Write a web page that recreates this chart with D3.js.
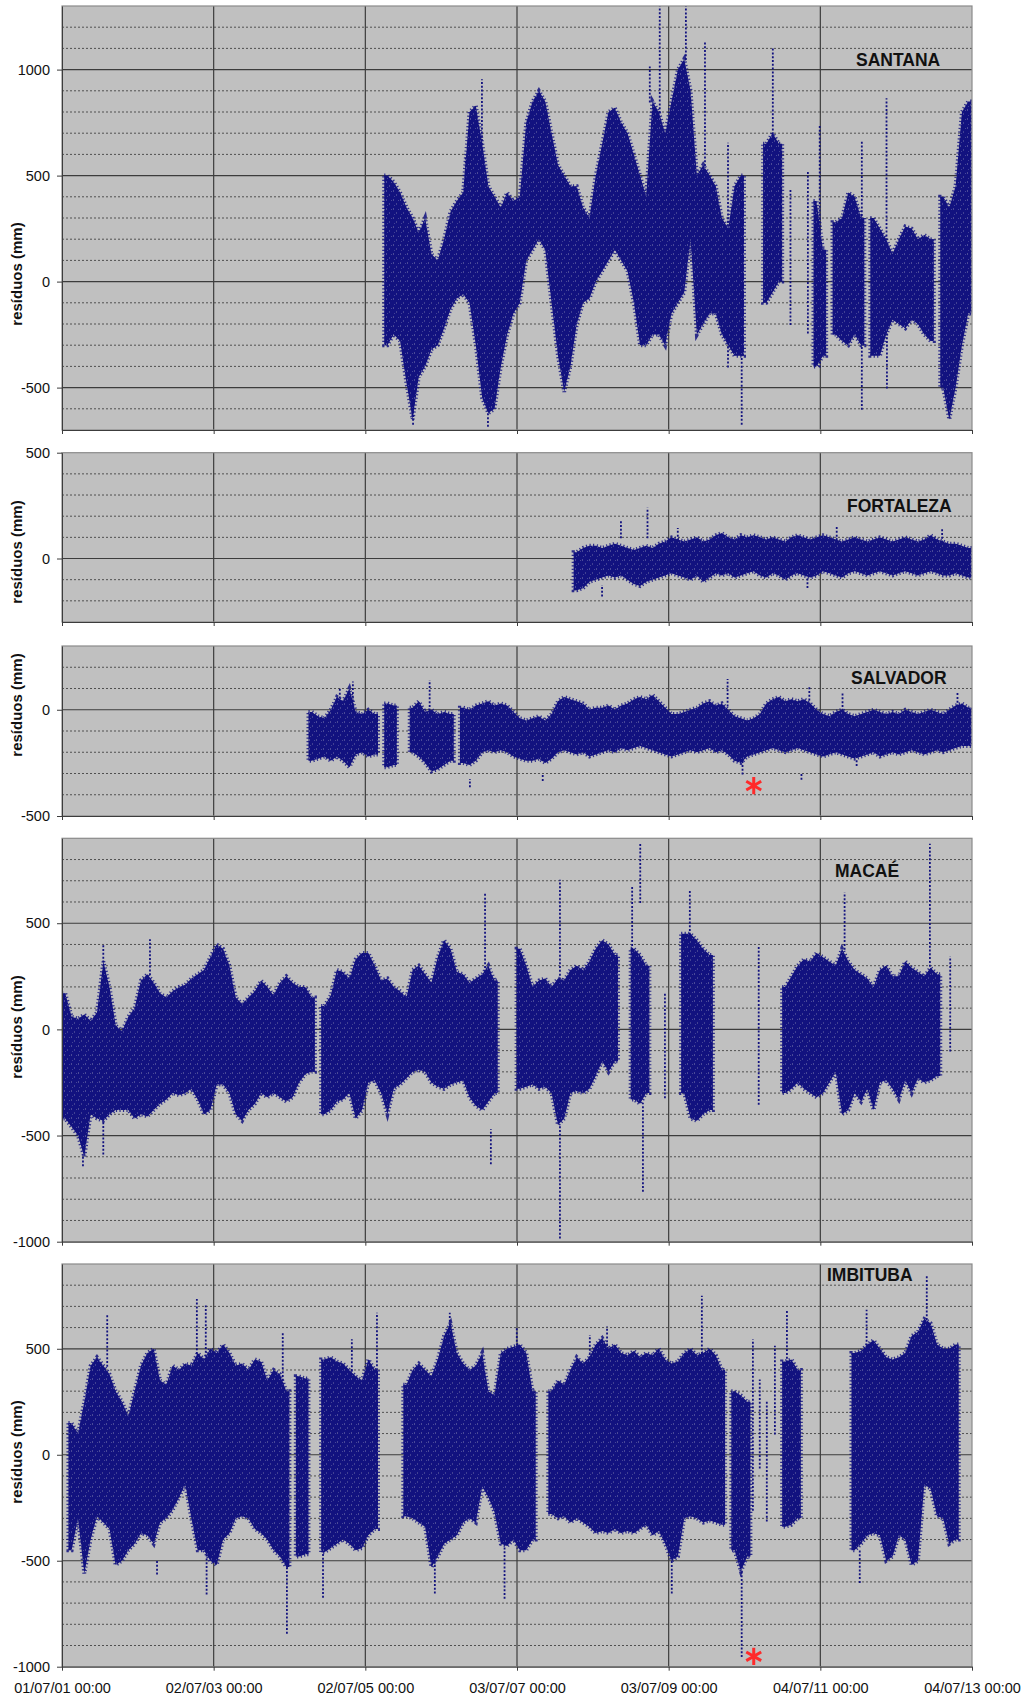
<!DOCTYPE html>
<html><head><meta charset="utf-8">
<script src="https://cdn.jsdelivr.net/npm/d3@7"></script>
<style>body{margin:0;background:#fff}svg{display:block}</style>
</head><body>
<svg id="chart" width="1029" height="1699"></svg>
<script>
// ---------- DATA ----------
const xTickLabels = ["01/07/01 00:00","02/07/03 00:00","02/07/05 00:00","03/07/07 00:00","03/07/09 00:00","04/07/11 00:00","04/07/13 00:00"];
const stationNames = ["SANTANA","FORTALEZA","SALVADOR","MACAÉ","IMBITUBA"];
const yAxisTitle = "resíduos (mm)";
const yDomains = [[-700,1300],[-300,500],[-500,300],[-1000,900],[-1000,900]];
const yTickValues = [[-500,0,500,1000],[0,500],[-500,0],[-1000,-500,0,500],[-1000,-500,0,500]];

// monthly envelopes of the dense point cloud: [month, low, high] (mm)
const santanaBins = [["2005-10",-300,500],["2005-11",-250,470],["2005-12",-280,420],["2006-01",-480,350],["2006-02",-650,300],["2006-03",-450,230],["2006-04",-400,300],["2006-05",-320,130],["2006-06",-300,100],["2006-07",-220,200],["2006-08",-130,330],["2006-09",-80,380],["2006-10",-60,420],["2006-11",-100,800],["2006-12",-300,830],["2007-01",-550,650],["2007-02",-620,450],["2007-03",-600,400],["2007-04",-400,350],["2007-05",-250,420],["2007-06",-150,380],["2007-07",-100,400],["2007-08",100,750],["2007-09",150,850],["2007-10",200,900],["2007-11",150,850],["2007-12",-100,700],["2008-01",-350,550],["2008-02",-520,500],["2008-03",-400,450],["2008-04",-200,450],["2008-05",-100,350],["2008-06",-80,300],["2008-07",0,500],["2008-08",50,650],["2008-09",100,800],["2008-10",150,820],["2008-11",100,750],["2008-12",50,700],["2009-01",-100,600],["2009-02",-300,500],["2009-03",-300,400],["2009-04",-250,850],["2009-05",-250,800],["2009-06",-300,700],["2009-07",-150,850],["2009-08",-100,1000],["2009-09",-50,1050],["2009-10",200,900],["2009-11",-250,500],["2009-12",-200,550],["2010-01",-150,500],["2010-02",-150,450],["2010-03",-250,300],["2010-04",-300,250],["2010-05",-350,450],["2010-06",-350,500],["2010-10",-100,650],["2010-11",-50,700],["2010-12",0,650],["2011-06",-400,380],["2011-07",-350,150],["2011-09",-250,280],["2011-10",-280,300],["2011-11",-300,420],["2011-12",-250,400],["2012-01",-300,300],["2012-03",-350,300],["2012-04",-350,250],["2012-05",-250,200],["2012-06",-180,130],["2012-07",-200,200],["2012-08",-220,260],["2012-09",-180,250],["2012-10",-200,200],["2012-11",-250,220],["2012-12",-280,200],["2013-02",-500,400],["2013-03",-650,350],["2013-04",-500,450],["2013-05",-300,800],["2013-06",-150,850]];
const fortalezaBins = [["2008-04",-150,30],["2008-05",-140,50],["2008-06",-110,60],["2008-07",-100,60],["2008-08",-90,50],["2008-09",-80,60],["2008-10",-90,70],["2008-11",-80,60],["2008-12",-100,50],["2009-01",-120,40],["2009-02",-130,50],["2009-03",-110,60],["2009-04",-100,50],["2009-05",-90,70],["2009-06",-80,80],["2009-07",-70,100],["2009-08",-80,90],["2009-09",-90,80],["2009-10",-100,90],["2009-11",-80,100],["2009-12",-110,80],["2010-01",-90,90],["2010-02",-70,110],["2010-03",-80,120],["2010-04",-70,100],["2010-05",-90,90],["2010-06",-80,110],["2010-07",-70,100],["2010-08",-60,110],["2010-09",-80,100],["2010-10",-90,90],["2010-11",-70,100],["2010-12",-80,90],["2011-01",-100,80],["2011-02",-80,100],["2011-03",-70,110],["2011-04",-80,100],["2011-05",-90,90],["2011-06",-80,100],["2011-07",-60,110],["2011-08",-70,100],["2011-09",-80,90],["2011-10",-90,80],["2011-11",-70,90],["2011-12",-60,100],["2012-01",-70,90],["2012-02",-80,80],["2012-03",-70,90],["2012-04",-60,100],["2012-05",-70,90],["2012-06",-80,80],["2012-07",-70,90],["2012-08",-60,100],["2012-09",-70,90],["2012-10",-80,80],["2012-11",-70,90],["2012-12",-60,110],["2013-01",-70,90],["2013-02",-80,80],["2013-03",-80,70],["2013-04",-70,70],["2013-05",-80,60],["2013-06",-90,50]];
const salvadorBins = [["2004-10",-240,-10],["2004-11",-230,-30],["2004-12",-220,-40],["2005-01",-240,0],["2005-02",-220,60],["2005-03",-240,40],["2005-04",-270,100],["2005-05",-210,-10],["2005-06",-200,-20],["2005-07",-220,0],["2005-08",-210,-20],["2005-10",-270,30],["2005-11",-260,20],["2006-02",-200,10],["2006-03",-220,40],["2006-04",-250,-10],["2006-05",-290,0],["2006-06",-280,-20],["2006-07",-260,-10],["2006-08",-240,-20],["2006-10",-250,10],["2006-11",-260,0],["2006-12",-240,20],["2007-01",-200,30],["2007-02",-190,40],["2007-03",-200,20],["2007-04",-190,30],["2007-05",-200,20],["2007-06",-220,-10],["2007-07",-230,-40],["2007-08",-240,-50],["2007-09",-240,-40],["2007-10",-230,-30],["2007-11",-250,-50],["2007-12",-230,-20],["2008-01",-200,40],["2008-02",-190,60],["2008-03",-200,50],["2008-04",-210,40],["2008-05",-200,30],["2008-06",-220,0],["2008-07",-210,10],["2008-08",-200,10],["2008-09",-190,20],["2008-10",-200,0],["2008-11",-180,20],["2008-12",-190,30],["2009-01",-180,50],["2009-02",-170,60],["2009-03",-180,50],["2009-04",-190,70],["2009-05",-200,40],["2009-06",-210,10],["2009-07",-220,-20],["2009-08",-210,-20],["2009-09",-200,-10],["2009-10",-190,0],["2009-11",-200,10],["2009-12",-190,30],["2010-01",-180,40],["2010-02",-200,20],["2010-03",-190,30],["2010-04",-210,0],["2010-05",-240,-30],["2010-06",-250,-40],["2010-07",-220,-50],["2010-08",-210,-40],["2010-09",-200,-20],["2010-10",-190,30],["2010-11",-180,50],["2010-12",-190,60],["2011-01",-200,40],["2011-02",-190,50],["2011-03",-180,40],["2011-04",-190,50],["2011-05",-200,30],["2011-06",-210,0],["2011-07",-220,-20],["2011-08",-210,-30],["2011-09",-200,-10],["2011-10",-210,0],["2011-11",-220,-20],["2011-12",-230,-30],["2012-01",-220,-20],["2012-02",-210,-10],["2012-03",-200,0],["2012-04",-220,-10],["2012-05",-210,-20],["2012-06",-200,-10],["2012-07",-210,-20],["2012-08",-200,0],["2012-09",-190,-10],["2012-10",-200,-20],["2012-11",-210,-10],["2012-12",-200,0],["2013-01",-190,-10],["2013-02",-200,-20],["2013-03",-190,0],["2013-04",-180,20],["2013-05",-170,30],["2013-06",-170,10]];
const macaeBins = [["2001-07",-420,170],["2001-08",-460,60],["2001-09",-500,50],["2001-10",-600,70],["2001-11",-400,40],["2001-12",-420,80],["2002-01",-430,320],["2002-02",-400,200],["2002-03",-380,20],["2002-04",-380,-10],["2002-05",-380,60],["2002-06",-420,100],["2002-07",-400,230],["2002-08",-410,260],["2002-09",-380,220],["2002-10",-350,170],["2002-11",-330,150],["2002-12",-300,180],["2003-01",-310,200],["2003-02",-300,210],["2003-03",-280,240],["2003-04",-330,260],["2003-05",-400,280],["2003-06",-380,340],["2003-07",-260,400],["2003-08",-260,380],["2003-09",-300,300],["2003-10",-400,150],["2003-11",-430,120],["2003-12",-380,150],["2004-01",-350,180],["2004-02",-300,230],["2004-03",-320,200],["2004-04",-300,160],["2004-05",-320,220],["2004-06",-340,250],["2004-07",-320,220],["2004-08",-250,200],["2004-09",-210,200],["2004-10",-200,150],["2004-12",-400,110],["2005-01",-380,160],["2005-02",-340,280],["2005-03",-330,270],["2005-04",-300,240],["2005-05",-420,330],["2005-06",-380,360],["2005-07",-250,360],["2005-08",-240,300],["2005-09",-300,230],["2005-10",-400,240],["2005-11",-280,200],["2005-12",-260,180],["2006-01",-230,150],["2006-02",-200,280],["2006-03",-190,300],["2006-04",-200,260],["2006-05",-250,220],["2006-06",-270,340],["2006-07",-280,420],["2006-08",-260,380],["2006-09",-250,270],["2006-10",-240,260],["2006-11",-320,220],["2006-12",-360,240],["2007-01",-380,260],["2007-02",-340,300],["2007-03",-300,230],["2007-07",-280,380],["2007-08",-270,300],["2007-09",-260,200],["2007-10",-280,230],["2007-11",-270,240],["2007-12",-300,200],["2008-01",-450,240],["2008-02",-420,230],["2008-03",-300,280],["2008-04",-290,300],["2008-05",-300,280],["2008-06",-280,320],["2008-07",-220,380],["2008-08",-150,420],["2008-09",-200,400],["2008-10",-150,350],["2009-01",-330,380],["2009-02",-350,350],["2009-03",-300,300],["2009-09",-300,450],["2009-10",-420,450],["2009-11",-430,420],["2009-12",-400,380],["2010-01",-380,350],["2011-01",-300,200],["2011-02",-280,250],["2011-03",-250,300],["2011-04",-280,330],["2011-05",-300,320],["2011-06",-320,360],["2011-07",-300,340],["2011-08",-250,320],["2011-09",-200,300],["2011-10",-400,380],["2011-11",-380,320],["2011-12",-300,280],["2012-01",-340,260],["2012-02",-280,240],["2012-03",-380,200],["2012-04",-250,280],["2012-05",-240,300],["2012-06",-280,250],["2012-07",-330,250],["2012-08",-240,320],["2012-09",-300,290],["2012-10",-230,270],["2012-11",-250,250],["2012-12",-240,290],["2013-01",-220,260]];
const imbitubaBins = [["2001-08",-450,150],["2001-09",-300,100],["2001-10",-560,250],["2001-11",-400,420],["2001-12",-290,460],["2002-01",-320,420],["2002-02",-350,380],["2002-03",-520,300],["2002-04",-500,250],["2002-05",-450,180],["2002-06",-420,300],["2002-07",-370,420],["2002-08",-380,480],["2002-09",-420,500],["2002-10",-320,350],["2002-11",-300,330],["2002-12",-260,420],["2003-01",-200,400],["2003-02",-140,430],["2003-03",-300,420],["2003-04",-450,480],["2003-05",-450,450],["2003-06",-500,500],["2003-07",-520,480],["2003-08",-400,520],["2003-09",-370,480],["2003-10",-300,420],["2003-11",-290,430],["2003-12",-300,400],["2004-01",-350,450],["2004-02",-370,440],["2004-03",-400,350],["2004-04",-450,400],["2004-05",-480,380],["2004-06",-530,300],["2004-08",-480,370],["2004-09",-470,360],["2004-12",-460,450],["2005-01",-440,460],["2005-02",-420,440],["2005-03",-400,430],["2005-04",-420,400],["2005-05",-450,370],["2005-06",-440,350],["2005-07",-380,450],["2005-08",-350,400],["2006-01",-290,330],["2006-02",-300,400],["2006-03",-320,430],["2006-04",-340,400],["2006-05",-530,370],["2006-06",-480,450],["2006-07",-420,560],["2006-08",-400,620],["2006-09",-380,480],["2006-10",-320,430],["2006-11",-300,400],["2006-12",-320,420],["2007-01",-150,480],["2007-02",-200,300],["2007-03",-270,280],["2007-04",-420,480],["2007-05",-430,500],["2007-06",-400,510],["2007-07",-450,520],["2007-08",-450,480],["2007-09",-400,300],["2007-12",-280,300],["2008-01",-300,350],["2008-02",-290,330],["2008-03",-320,400],["2008-04",-300,460],["2008-05",-320,430],["2008-06",-340,460],["2008-07",-370,520],["2008-08",-360,550],["2008-09",-370,500],["2008-10",-350,520],["2008-11",-370,480],["2008-12",-360,470],["2009-01",-370,490],["2009-02",-350,460],["2009-03",-330,480],["2009-04",-380,470],["2009-05",-360,500],["2009-06",-420,450],["2009-07",-500,430],["2009-08",-480,440],["2009-09",-300,480],["2009-10",-290,500],["2009-11",-300,470],["2009-12",-320,480],["2010-01",-310,500],["2010-02",-320,470],["2010-03",-330,400],["2010-05",-450,300],["2010-06",-550,280],["2010-07",-480,250],["2011-01",-340,440],["2011-02",-330,450],["2011-03",-300,400],["2011-12",-450,480],["2012-01",-420,490],["2012-02",-380,520],["2012-03",-370,540],["2012-04",-380,500],["2012-05",-500,460],["2012-06",-480,450],["2012-07",-380,460],["2012-08",-400,480],["2012-09",-520,560],["2012-10",-500,580],["2012-11",-140,640],["2012-12",-160,620],["2013-01",-290,520],["2013-02",-300,500],["2013-03",-420,500],["2013-04",-400,520]];

// isolated streaks / outliers: [date, low, high] (mm)
const santanaSpikes = [["2006-02-17",-670,-450],["2006-10-29",25,590],["2007-01-15",650,950],["2007-02-13",-680,-550],["2009-04-03",850,1010],["2009-05-21",800,1300],["2009-09-24",1050,1300],["2009-12-25",550,1125],["2010-04-15",-400,650],["2010-06-20",-670,-350],["2010-11-17",700,1095],["2011-02-10",-200,430],["2011-05-05",-240,520],["2011-07-01",-400,730],["2012-01-20",-600,655],["2012-05-18",200,860],["2012-05-20",-500,-250]];
const fortalezaSpikes = [["2008-08-16",-175,-130],["2008-11-15",100,180],["2009-03-23",100,235],["2009-08-16",90,140],["2011-05-03",-135,-90],["2011-09-21",90,150],["2013-02-10",80,135]];
const salvadorSpikes = [["2005-03-01",40,97],["2005-05-03",-10,128],["2006-05-08",0,135],["2006-11-18",-360,-330],["2007-11-04",-330,-310],["2010-04-13",20,140],["2010-06-24",-300,-240],["2011-04-04",-325,-300],["2011-05-12",30,110],["2011-10-19",0,75],["2011-12-26",-260,-240],["2013-04-25",20,75]];
const macaeSpikes = [["2001-10-10",-640,-600],["2002-01-16",-585,-430],["2002-01-16",320,400],["2002-08-29",260,420],["2007-01-30",240,640],["2007-02-27",-630,-475],["2008-01-26",-980,-450],["2008-01-26",240,700],["2009-01-08",380,675],["2009-02-16",600,870],["2009-03-01",-760,-350],["2009-06-15",-320,170],["2009-10-13",450,650],["2010-09-10",-350,390],["2011-10-29",380,640],["2012-12-13",300,870],["2013-03-21",-100,340]];
const imbitubaSpikes = [["2002-02-04",420,660],["2002-10-02",-560,-500],["2003-04-12",480,730],["2003-05-25",450,700],["2003-05-29",-655,-450],["2004-05-30",300,570],["2004-06-19",-840,-530],["2004-12-10",-670,-460],["2005-04-28",400,540],["2005-08-27",350,665],["2006-06-02",-650,-480],["2006-08-13",560,665],["2007-05-04",-675,-430],["2007-07-02",520,600],["2008-06-18",460,560],["2008-09-09",500,600],["2009-07-18",-650,-500],["2009-12-10",480,745],["2010-06-20",-950,-550],["2010-08-13",-260,540],["2010-09-15",-60,350],["2010-10-19",-310,255],["2010-11-27",100,510],["2011-01-24",440,675],["2012-01-10",-600,-450],["2012-02-12",520,680],["2012-11-28",640,845]];

// red asterisk annotations: [station index, date, value]
const markers = [[2,"2010-08-17",-357],[4,"2010-08-17",-951]];

// ---------- DRAWING ----------
const bins = [santanaBins, fortalezaBins, salvadorBins, macaeBins, imbitubaBins];
const spikes = [santanaSpikes, fortalezaSpikes, salvadorSpikes, macaeSpikes, imbitubaSpikes];
const panels = [
  {top:6, bottom:430, titleY:274, labelX:856, labelY:66},
  {top:452.7, bottom:622, titleY:552, labelX:847, labelY:512},
  {top:646, bottom:816, titleY:705, labelX:851, labelY:684},
  {top:838.3, bottom:1241.7, titleY:1027, labelX:835, labelY:877},
  {top:1264, bottom:1666.7, titleY:1452, labelX:827, labelY:1281}
];
const L = 62, R = 972;
const FONT = "'Liberation Sans', Arial, Helvetica, sans-serif";
const dark = "#3c3c3c";
const navy = "#12127f";

const svg = d3.select("#chart").style("font-family", FONT);
const defs = svg.append("defs");
// speckle texture for the dense clouds of points
const pat = defs.append("pattern").attr("id", "cloud").attr("patternUnits", "userSpaceOnUse")
  .attr("width", 7).attr("height", 9);
pat.append("rect").attr("width", 7).attr("height", 9).attr("fill", navy);
pat.append("rect").attr("x", 1).attr("y", 1).attr("width", 1).attr("height", 2).attr("fill", "#7070a8").attr("opacity", 0.6);
pat.append("rect").attr("x", 4).attr("y", 5).attr("width", 1).attr("height", 2).attr("fill", "#7070a8").attr("opacity", 0.5);
pat.append("rect").attr("x", 6).attr("y", 2).attr("width", 1).attr("height", 1).attr("fill", "#8888b8").attr("opacity", 0.45);
pat.append("rect").attr("x", 2).attr("y", 7).attr("width", 1).attr("height", 1).attr("fill", "#8888b8").attr("opacity", 0.4);

const parseTick = d3.utcParse("%d/%m/%y %H:%M");
const parseMonth = d3.utcParse("%Y-%m");
const parseDay = d3.utcParse("%Y-%m-%d");
const tickDates = xTickLabels.map(parseTick);
const x = d3.scaleUtc().domain([tickDates[0], tickDates[tickDates.length - 1]]).range([L, R]);

// split monthly bins into contiguous runs, each becomes one envelope polygon
function runs(list) {
  const out = [];
  let cur = null, prevEnd = null;
  list.forEach(d => {
    const s = parseMonth(d[0]), e = d3.utcMonth.offset(s, 1);
    if (!cur || +s !== +prevEnd) { cur = []; out.push(cur); }
    cur.push({s, e, lo: d[1], hi: d[2]});
    prevEnd = e;
  });
  return out.map(r => {
    const pts = [{t: r[0].s, lo: r[0].lo, hi: r[0].hi}];
    r.forEach(b => pts.push({t: new Date((+b.s + +b.e) / 2), lo: b.lo, hi: b.hi}));
    const lastB = r[r.length - 1];
    pts.push({t: lastB.e, lo: lastB.lo, hi: lastB.hi});
    return pts;
  });
}

panels.forEach((p, i) => {
  const y = d3.scaleLinear().domain(yDomains[i]).range([p.bottom, p.top]);
  const g = svg.append("g");
  const clipId = "clip" + i;
  defs.append("clipPath").attr("id", clipId).append("rect")
    .attr("x", L).attr("y", p.top).attr("width", R - L).attr("height", p.bottom - p.top);

  g.append("rect").attr("x", L).attr("y", p.top).attr("width", R - L).attr("height", p.bottom - p.top)
    .attr("fill", "#c0c0c0");

  const [lo, hi] = yDomains[i];
  const hundreds = d3.range(Math.ceil(lo / 100) * 100, hi + 1, 100).filter(v => v > lo && v < hi);
  g.append("g").selectAll("line").data(hundreds.filter(v => v % 500 !== 0)).join("line")
    .attr("x1", L).attr("x2", R).attr("y1", d => y(d)).attr("y2", d => y(d))
    .attr("stroke", "#505050").attr("stroke-width", 1).attr("stroke-dasharray", "2,2");
  g.append("g").selectAll("line").data(hundreds.filter(v => v % 500 === 0)).join("line")
    .attr("x1", L).attr("x2", R).attr("y1", d => y(d)).attr("y2", d => y(d))
    .attr("stroke", dark).attr("stroke-width", 1.2);
  g.append("g").selectAll("line").data(tickDates.slice(1, -1)).join("line")
    .attr("x1", d => x(d)).attr("x2", d => x(d)).attr("y1", p.top).attr("y2", p.bottom)
    .attr("stroke", dark).attr("stroke-width", 1.2);

  const dg = g.append("g").attr("clip-path", `url(#${clipId})`);
  const area = d3.area().x(d => x(d.t)).y0(d => y(d.lo)).y1(d => y(d.hi)).curve(d3.curveLinear);
  const runList = runs(bins[i]);
  // ragged fringe of scattered points around each envelope
  dg.selectAll("path.fringe").data(runList).join("path").attr("class", "fringe")
    .attr("d", area).attr("fill", "none")
    .attr("stroke", navy).attr("stroke-width", 4).attr("stroke-dasharray", "1.2,2.3").attr("stroke-opacity", 0.85);
  dg.selectAll("path.cloud").data(runList).join("path").attr("class", "cloud")
    .attr("d", area).attr("fill", "url(#cloud)");
  dg.selectAll("line").data(spikes[i]).join("line")
    .attr("x1", d => x(parseDay(d[0]))).attr("x2", d => x(parseDay(d[0])))
    .attr("y1", d => y(d[1]) + 1).attr("y2", d => y(d[2]) - 1)
    .attr("stroke", navy).attr("stroke-width", 1.8).attr("stroke-dasharray", "2,1.8");

  // frame
  g.append("rect").attr("x", L).attr("y", p.top).attr("width", R - L).attr("height", p.bottom - p.top)
    .attr("fill", "none").attr("stroke", "#8a8a8a").attr("stroke-width", 1.2);

  // left axis
  const ya = g.append("g").attr("transform", `translate(${L},0)`)
    .call(d3.axisLeft(y).tickValues(yTickValues[i]).tickSize(5).tickSizeOuter(0).tickPadding(7)
      .tickFormat(d => String(d)));
  ya.select(".domain").attr("stroke", dark);
  ya.selectAll(".tick line").attr("stroke", dark);
  ya.selectAll("text").attr("font-size", 14.5).attr("fill", "#111").attr("font-family", FONT);

  // bottom axis
  const last = i === panels.length - 1;
  const xa = g.append("g").attr("transform", `translate(0,${p.bottom})`)
    .call(d3.axisBottom(x).tickValues(tickDates).tickSize(4).tickSizeOuter(0).tickPadding(12)
      .tickFormat((d, k) => last ? xTickLabels[k] : ""));
  xa.select(".domain").attr("stroke", dark);
  xa.selectAll(".tick line").attr("stroke", dark);
  xa.selectAll("text").attr("font-size", 14.5).attr("fill", "#111").attr("font-family", FONT);

  // y title
  svg.append("text").attr("transform", `translate(18,${p.titleY}) rotate(-90)`)
    .attr("text-anchor", "middle").attr("dominant-baseline", "middle")
    .attr("font-size", 15).attr("font-weight", "bold").attr("fill", "#111")
    .text(yAxisTitle);

  // station label
  svg.append("text").attr("x", p.labelX).attr("y", p.labelY)
    .attr("font-size", 17.5).attr("font-weight", "bold").attr("fill", "#111")
    .text(stationNames[i]);

  // markers
  markers.filter(m => m[0] === i).forEach(m => {
    svg.append("path")
      .attr("transform", `translate(${x(parseDay(m[1]))},${y(m[2])})`)
      .attr("d", d3.symbol().type(d3.symbolAsterisk).size(210)())
      .attr("fill", "none").attr("stroke", "#ff2a2a").attr("stroke-width", 3);
  });
});
</script>
</body></html>
